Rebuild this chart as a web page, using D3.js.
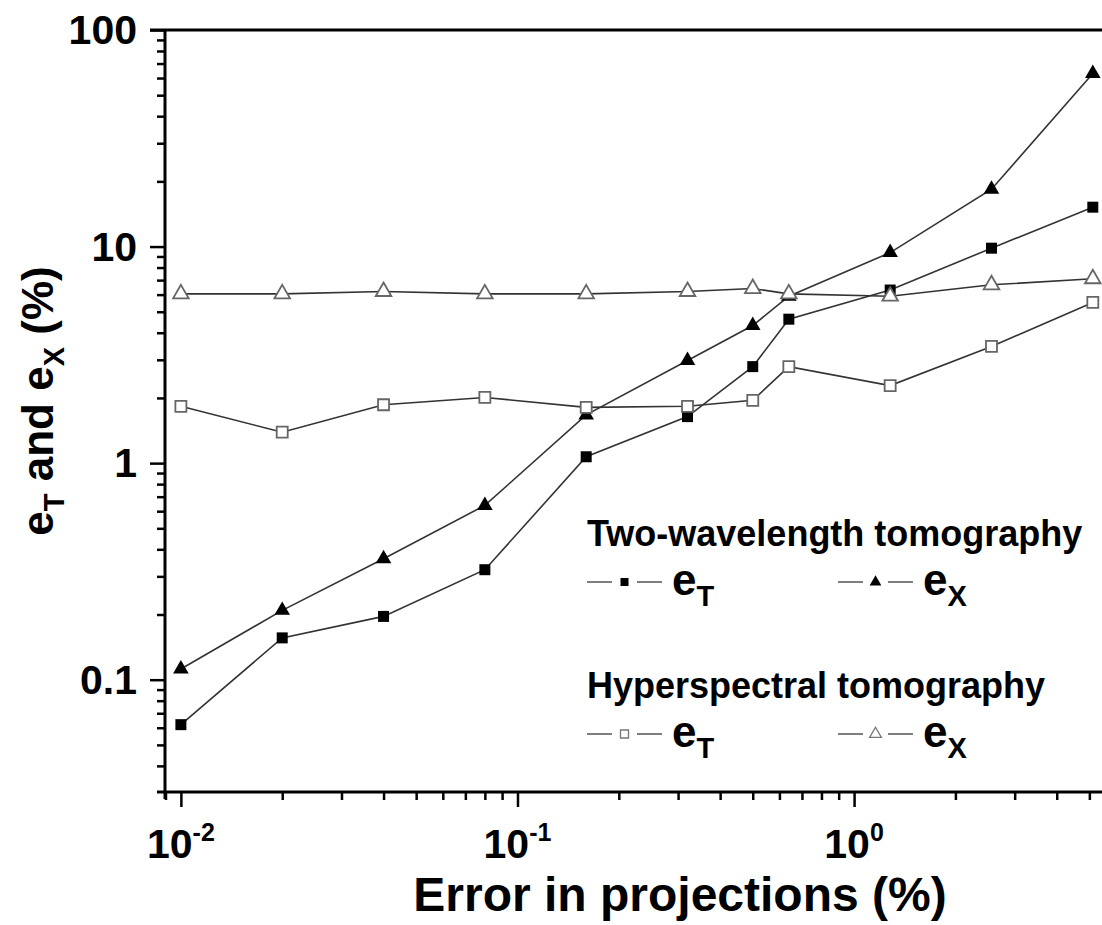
<!DOCTYPE html>
<html>
<head>
<meta charset="utf-8">
<script src="https://cdn.jsdelivr.net/npm/d3@7"></script>
<style>
body { margin: 0; background: #fff; }
text { font-family: "Liberation Sans", Arial, sans-serif; font-weight: bold; fill: #000; }
</style>
</head>
<body>
<div id="chart"></div>
<script>
// error in projections (%)
var errors = [0.01, 0.02, 0.04, 0.08, 0.16, 0.32, 0.5, 0.64, 1.28, 2.56, 5.12];
// two-wavelength tomography
var twoT = [0.062, 0.156, 0.196, 0.322, 1.07, 1.64, 2.79, 4.62, 6.3, 9.83, 15.2];
var twoX = [0.112, 0.209, 0.362, 0.638, 1.67, 2.98, 4.32, 5.9, 9.38, 18.4, 63];
// hyperspectral tomography
var hypT = [1.83, 1.39, 1.86, 2.01, 1.81, 1.83, 1.95, 2.79, 2.28, 3.46, 5.52];
var hypX = [6.05, 6.05, 6.2, 6.05, 6.05, 6.2, 6.4, 6.05, 5.9, 6.66, 7.1];

var yTicks = [0.1, 1, 10, 100];
var yTickLabels = ["0.1", "1", "10", "100"];
var xTicks = [0.01, 0.1, 1];
var xTickExp = ["-2", "-1", "0"];

var series = [
  {name: "twoT", values: twoT, shape: "square", filled: true},
  {name: "twoX", values: twoX, shape: "triangle", filled: true},
  {name: "hypT", values: hypT, shape: "square", filled: false},
  {name: "hypX", values: hypX, shape: "triangle", filled: false}
];

var legendGroups = [
  {title: "Two-wavelength tomography", items: [series[0], series[1]], subs: ["T", "X"]},
  {title: "Hyperspectral tomography", items: [series[2], series[3]], subs: ["T", "X"]}
];

var W = 1102, H = 925;
var svg = d3.select("#chart").append("svg")
  .attr("width", W)
  .attr("height", H);

var x = d3.scaleLog().domain([0.00897, 6]).range([165, 1116]);
var y = d3.scaleLog().domain([0.0303, 100]).range([792, 30]);

function minorTicks(lo, hi) {
  var out = [];
  for (var p = lo; p < hi; p++) {
    for (var k = 2; k <= 9; k++) out.push(k * Math.pow(10, p));
  }
  return out;
}
var yMinor = minorTicks(-2, 2).filter(function(v) { return v > y.domain()[0] && v < 100; });
var xMinor = minorTicks(-3, 1).filter(function(v) { return v > x.domain()[0] && v < x.domain()[1]; });

// axes
var axisStroke = 2.5;
var gy = svg.append("g").attr("transform", "translate(165,0)");
gy.call(d3.axisLeft(y).tickValues(yTicks).tickSize(15).tickFormat(""));
gy.append("g").call(d3.axisLeft(y).tickValues(yMinor).tickSize(8).tickFormat(""));
gy.selectAll(".domain").remove();
gy.selectAll("line").attr("stroke", "#000").attr("stroke-width", axisStroke);

var gx = svg.append("g").attr("transform", "translate(0,792)");
gx.call(d3.axisBottom(x).tickValues(xTicks).tickSize(15).tickFormat(""));
gx.append("g").call(d3.axisBottom(x).tickValues(xMinor).tickSize(8).tickFormat(""));
gx.selectAll(".domain").remove();
gx.selectAll("line").attr("stroke", "#000").attr("stroke-width", axisStroke);

// frame lines
svg.append("line").attr("x1", 165).attr("x2", 165).attr("y1", 30).attr("y2", 799)
  .attr("stroke", "#000").attr("stroke-width", 3);
svg.append("line").attr("x1", 157).attr("x2", W).attr("y1", 792).attr("y2", 792)
  .attr("stroke", "#000").attr("stroke-width", 3);
svg.append("line").attr("x1", 150).attr("x2", W).attr("y1", 30).attr("y2", 30)
  .attr("stroke", "#000").attr("stroke-width", 3);

// tick labels
svg.append("g").selectAll("text")
  .data(yTicks)
  .enter()
  .append("text")
  .attr("x", 137)
  .attr("y", function(d) { return y(d) + 14; })
  .attr("text-anchor", "end")
  .style("font-size", "41px")
  .text(function(d, i) { return yTickLabels[i]; });

var xl = svg.append("g").selectAll("text")
  .data(xTicks)
  .enter()
  .append("text")
  .attr("x", function(d) { return x(d); })
  .attr("y", 858)
  .attr("text-anchor", "middle")
  .style("font-size", "41px");
xl.append("tspan").text("10");
xl.append("tspan").attr("dy", -17).style("font-size", "25px").text(function(d, i) { return xTickExp[i]; });

// axis titles
svg.append("text")
  .attr("x", 680)
  .attr("y", 911)
  .attr("text-anchor", "middle")
  .style("font-size", "48px")
  .text("Error in projections (%)");

var yt = svg.append("text")
  .attr("transform", "translate(53,401) rotate(-90)")
  .attr("text-anchor", "middle")
  .style("font-size", "44px");
yt.append("tspan").text("e");
yt.append("tspan").attr("dy", 11).style("font-size", "29px").text("T");
yt.append("tspan").attr("dy", -11).text(" and e");
yt.append("tspan").attr("dy", 11).style("font-size", "29px").text("X");
yt.append("tspan").attr("dy", -11).text(" (%)");

// data
function symbolPath(shape, big) {
  if (shape === "square") return d3.symbol().type(d3.symbolSquare).size(big ? 121 : 64)();
  return d3.symbol().type(d3.symbolTriangle).size(big ? 105 : 60)();
}

var line = d3.line()
  .x(function(d) { return x(d[0]); })
  .y(function(d) { return y(d[1]); });

series.forEach(function(s) {
  var pts = errors.map(function(e, i) { return [e, s.values[i]]; });
  svg.append("path")
    .datum(pts)
    .attr("d", line)
    .attr("fill", "none")
    .attr("stroke", "#333")
    .attr("stroke-width", 1.6);
});

series.forEach(function(s) {
  var pts = errors.map(function(e, i) { return [e, s.values[i]]; });
  svg.append("g").selectAll("path")
    .data(pts)
    .enter()
    .append("path")
    .attr("transform", function(d) { return "translate(" + x(d[0]) + "," + y(d[1]) + ")"; })
    .attr("d", symbolPath(s.shape, true))
    .attr("fill", s.filled ? "#000" : "#fff")
    .attr("stroke", s.filled ? "#000" : "#666")
    .attr("stroke-width", s.filled ? 0 : 1.8);
});

// legend
var lg = svg.append("g");
legendGroups.forEach(function(g, gi) {
  var top = 546 + gi * 152;
  lg.append("text")
    .attr("x", 587)
    .attr("y", top)
    .style("font-size", "36px")
    .text(g.title);
  g.items.forEach(function(s, j) {
    var lx = 587 + j * 251;
    var ly = top + 36;
    lg.append("line").attr("x1", lx).attr("x2", lx + 25).attr("y1", ly).attr("y2", ly)
      .attr("stroke", "#555").attr("stroke-width", 1.5);
    lg.append("line").attr("x1", lx + 50).attr("x2", lx + 75).attr("y1", ly).attr("y2", ly)
      .attr("stroke", "#555").attr("stroke-width", 1.5);
    lg.append("path")
      .attr("transform", "translate(" + (lx + 37.5) + "," + ly + ")")
      .attr("d", symbolPath(s.shape, false))
      .attr("fill", s.filled ? "#000" : "#fff")
      .attr("stroke", s.filled ? "#000" : "#777")
      .attr("stroke-width", s.filled ? 0 : 1.3);
    var t = lg.append("text")
      .attr("x", lx + 85)
      .attr("y", ly + 13)
      .style("font-size", "44px");
    t.append("tspan").text("e");
    t.append("tspan").attr("dy", 11).style("font-size", "29px").text(g.subs[j]);
  });
});
</script>
</body>
</html>
